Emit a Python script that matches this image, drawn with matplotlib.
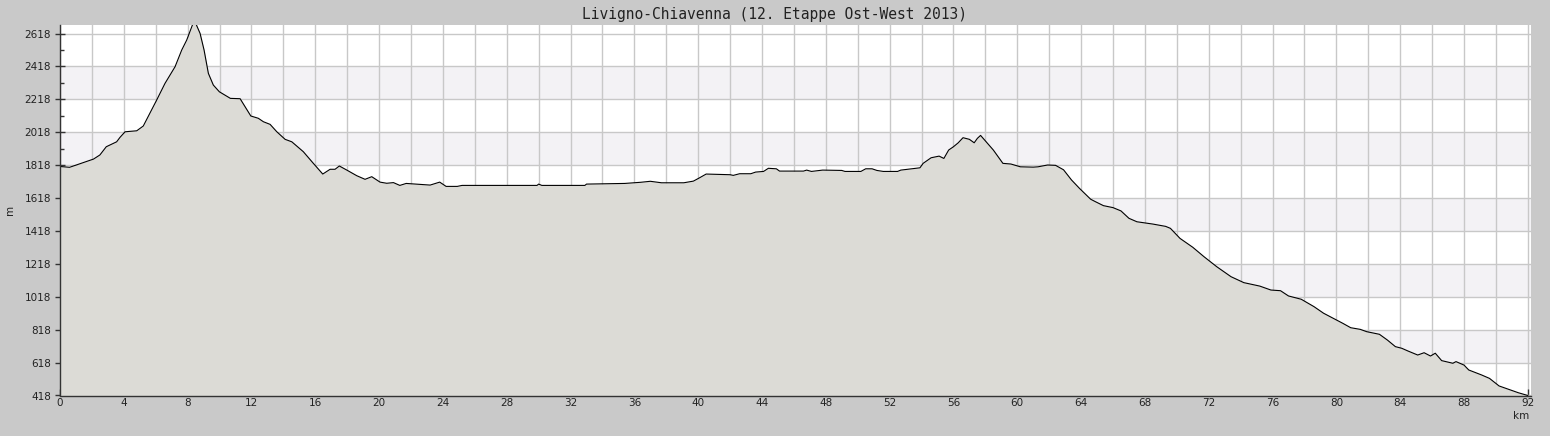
"""
Elevation profile: Livigno-Chiavenna (12. Etappe Ost-West 2013).
Single filled area chart with alternating horizontal bands.
"""

import numpy as np
import matplotlib
matplotlib.use("Agg")
import matplotlib.pyplot as plt
from matplotlib.ticker import MultipleLocator, FixedLocator

# ----------------------------- data -----------------------------------------
KM = [0.0, 0.6, 1.5, 2.1, 2.5, 2.9, 3.55, 3.76, 4.08, 4.81, 5.22, 6.06, 6.58,
      7.21, 7.63, 7.94, 8.32, 8.53, 8.78, 9.03, 9.30, 9.61, 9.99, 10.68, 11.29,
      11.96, 12.43, 12.75, 13.17, 13.59, 14.11, 14.53, 15.25, 15.88, 16.47,
      16.93, 17.24, 17.51, 17.98, 18.6, 19.12, 19.54, 20.06, 20.48, 20.9, 21.3,
      21.7, 23.2, 23.8, 24.2, 24.9, 25.2, 29.9, 30.0, 30.2, 32.9, 33.0, 35.4,
      36.4, 37.0, 37.7, 39.1, 39.7, 40.1, 40.5, 42.0, 42.2, 42.6, 43.3, 43.6,
      44.1, 44.4, 44.9, 45.1, 46.6, 46.8, 47.1, 47.8, 49.0, 49.2, 50.2, 50.5,
      50.9, 51.2, 51.6, 52.5, 52.7, 53.9, 54.1, 54.6, 55.1, 55.4, 55.7, 56.0,
      56.3, 56.6, 57.0, 57.3, 57.5, 57.7, 58.1, 58.5, 59.1, 59.6, 60.2, 61.0,
      61.3, 61.9, 62.4, 62.9, 63.4, 63.9, 64.6, 64.9, 65.4, 66.0, 66.5, 67.0,
      67.5, 68.5, 69.3, 69.6, 70.2, 71.0, 71.7, 72.5, 73.4, 74.2, 75.2, 75.9,
      76.5, 77.0, 77.8, 78.6, 79.2, 80.0, 80.4, 80.9, 81.5, 81.9, 82.7, 83.2,
      83.7, 84.1, 84.5, 85.1, 85.5, 85.9, 86.2, 86.6, 87.3, 87.5, 88.0, 88.3,
      89.1, 89.6, 90.2, 90.9, 91.4, 92.0]
ELEV = [1810, 1805, 1835, 1855, 1880, 1930, 1960, 1987, 2021, 2027, 2056, 2214,
        2315, 2416, 2518, 2578, 2675, 2675, 2619, 2518, 2376, 2305, 2264, 2224,
        2222, 2117, 2103, 2082, 2066, 2021, 1975, 1960, 1900, 1829, 1764, 1793,
        1793, 1813, 1788, 1754, 1732, 1748, 1715, 1708, 1712, 1695, 1707, 1697,
        1715, 1689, 1689, 1695, 1695, 1703, 1695, 1695, 1703, 1707, 1714, 1720,
        1711, 1711, 1721, 1742, 1764, 1760, 1756, 1766, 1766, 1776, 1780, 1799,
        1796, 1782, 1782, 1788, 1780, 1788, 1786, 1780, 1780, 1796, 1796, 1786,
        1780, 1780, 1788, 1802, 1829, 1863, 1873, 1859, 1910, 1930, 1954, 1985,
        1975, 1954, 1981, 1999, 1954, 1910, 1829, 1825, 1808, 1806, 1808, 1819,
        1817, 1790, 1728, 1677, 1611, 1596, 1572, 1560, 1540, 1495, 1474, 1460,
        1446, 1434, 1373, 1319, 1262, 1201, 1140, 1104, 1083, 1059, 1055, 1023,
        1003, 958, 918, 877, 857, 830, 820, 806, 790, 755, 715, 705, 688, 664,
        678, 658, 675, 630, 614, 624, 603, 573, 543, 522, 476, 452, 435, 418]

Y_TICKS = [418, 618, 818, 1018, 1218, 1418, 1618, 1818, 2018, 2218, 2418, 2618]
X_TICKS = [0, 4, 8, 12, 16, 20, 24, 28, 32, 36, 40, 44, 48, 52, 56, 60, 64,
           68, 72, 76, 80, 84, 88, 92]
TITLE = "Livigno-Chiavenna (12. Etappe Ost-West 2013)"

# ----------------------------- style ----------------------------------------
BG = "#c9c9c9"
FILL = "#dcdbd6"
BAND = "#f3f2f5"
GRID = "#c8c8c8"
TXT = "#222222"

plt.rcParams.update({"font.family": "DejaVu Sans", "font.size": 7.5})

fig = plt.figure(figsize=(15.5, 4.36), dpi=100, facecolor=BG)
ax = fig.add_axes([60 / 1550, 40.5 / 436, 1471 / 1550, 370.5 / 436])
ax.set_facecolor("white")

y0, y1 = 418, 2670
ax.set_xlim(0, 92.2)
ax.set_ylim(y0, y1)

# alternating bands (618-818, 1018-1218, ... 2218-2418)
for lo in Y_TICKS[1:-1:2]:
    ax.axhspan(lo, lo + 200, color=BAND, lw=0, zorder=0)

# ticks + grid
x_major = list(range(0, 93, 2))
ax.set_xticks(x_major)
ax.set_xticklabels([str(v) if v in X_TICKS else "" for v in x_major])
ax.xaxis.set_minor_locator(MultipleLocator(1))
ax.set_yticks(Y_TICKS)
ax.set_yticklabels([str(v) for v in Y_TICKS])
ax.yaxis.set_minor_locator(FixedLocator([v + 100 for v in Y_TICKS]))
ax.grid(True, which="major", color=GRID, lw=1, zorder=0.5)
ax.set_axisbelow(True)

# profile
km = np.asarray(KM)
el = np.asarray(ELEV)
ax.fill_between(km, y0, el, color=FILL, lw=0, zorder=2)
ax.plot(km, el, color="black", lw=0.8, zorder=3)

# axes
for s in ("top", "right"):
    ax.spines[s].set_visible(False)
for s in ("left", "bottom"):
    ax.spines[s].set_color("#333333")
    ax.spines[s].set_linewidth(1.0)
    ax.spines[s].set_zorder(4)

ax.tick_params(axis="x", which="major", direction="in", length=5, width=1,
               colors="#333333", labelcolor=TXT, pad=2)
ax.tick_params(axis="x", which="minor", direction="in", length=3, width=1,
               colors="#333333")
ax.tick_params(axis="y", which="major", direction="inout", length=7, width=1,
               colors="#333333", labelcolor=TXT, pad=3)
ax.tick_params(axis="y", which="minor", direction="in", length=3, width=1,
               colors="#333333")

# labels
fig.text(0.5, 1 - 14 / 436, TITLE, ha="center", va="center",
         family="DejaVu Sans Mono", fontsize=10.5, color=TXT)
fig.text(10 / 1550, 1 - 210 / 436, "m", rotation=90, ha="center",
         va="center", fontsize=7.5, color=TXT)
fig.text(1521 / 1550, 1 - 416 / 436, "km", ha="center", va="center",
         fontsize=7.5, color=TXT)

fig.savefig("out.png", dpi=100, facecolor=BG)
